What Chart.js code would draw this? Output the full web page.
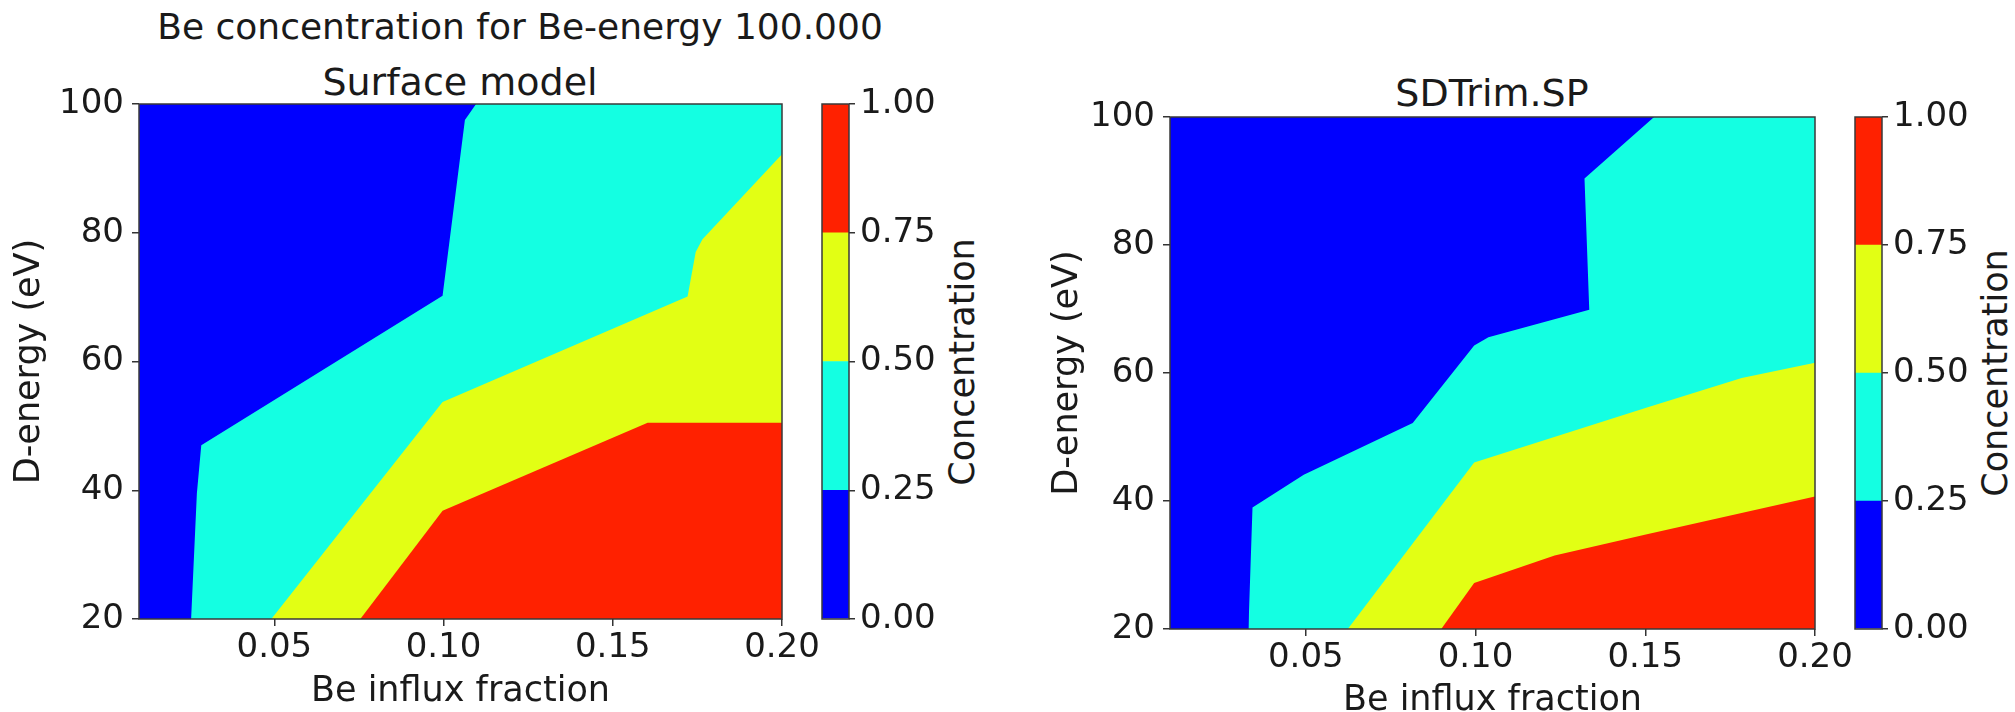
<!DOCTYPE html>
<html>
<head>
<meta charset="utf-8">
<script src="https://cdn.jsdelivr.net/npm/chart.js@4.4.1/dist/chart.umd.min.js"></script>
<style>
html,body{margin:0;padding:0;background:#fff;overflow:hidden;width:2015px;height:712px;}
canvas{position:absolute;top:0;}
.t{position:absolute;font-family:"DejaVu Sans";color:#1a1a1a;white-space:nowrap;line-height:1;}
</style>
</head>
<body>
<div class="t" style="left:520px;top:27px;font-size:36px;transform:translate(-50%,-50%);">Be concentration for Be-energy 100.000</div>
<div class="t" style="left:460px;top:82px;font-size:38px;transform:translate(-50%,-50%);">Surface model</div>
<div class="t" style="left:1492px;top:93px;font-size:38px;transform:translate(-50%,-50%);">SDTrim.SP</div>
<div class="t" style="left:962px;top:362px;font-size:35px;transform:translate(-50%,-50%) rotate(-90deg);">Concentration</div>
<div class="t" style="left:1995px;top:373px;font-size:35px;transform:translate(-50%,-50%) rotate(-90deg);">Concentration</div>

<canvas id="surf" style="left:0px;width:1000px;height:740px" width="1000" height="740"></canvas>
<canvas id="surfBar" style="left:800px;width:215px;height:740px" width="215" height="740"></canvas>
<canvas id="sd" style="left:1000px;width:1015px;height:740px" width="1015" height="740"></canvas>
<canvas id="sdBar" style="left:1830px;width:185px;height:740px" width="185" height="740"></canvas>

<script>
// ---------- data ----------
const xRange = [0.01, 0.20];
const yRange = [20, 100];
const xTickValues = [0.05, 0.10, 0.15, 0.20];
const yTickValues = [20, 40, 60, 80, 100];
const levels = [0.00, 0.25, 0.50, 0.75, 1.00];

// Surface model: upper boundary of the area where concentration >= level
// points are [Be influx fraction, D-energy (eV)]
const surfAbove000 = [[0.01, 100], [0.20, 100]];
const surfAbove025 = [[0.0254, 20], [0.0271, 39.5], [0.0284, 47.0], [0.0997, 70.2], [0.1063, 97.5], [0.1096, 100], [0.20, 100]];
const surfAbove050 = [[0.0491, 20], [0.0997, 53.7], [0.1721, 70.1], [0.1745, 77.0], [0.1765, 79.0], [0.20, 92.2]];
const surfAbove075 = [[0.0754, 20], [0.0997, 36.8], [0.1603, 50.5], [0.20, 50.5]];

// SDTrim.SP
const sdAbove000 = [[0.01, 100], [0.20, 100]];
const sdAbove025 = [[0.0331, 20], [0.0343, 39.0], [0.0494, 44.1], [0.0815, 52.2], [0.0996, 64.3], [0.1038, 65.6], [0.1335, 69.9], [0.1321, 90.4], [0.1526, 100], [0.20, 100]];
const sdAbove050 = [[0.0624, 20], [0.0996, 46.0], [0.1505, 54.6], [0.1784, 59.2], [0.20, 61.6]];
const sdAbove075 = [[0.0899, 20], [0.0996, 27.2], [0.1233, 31.5], [0.1505, 34.8], [0.20, 40.7]];

// ---------- styles ----------
const jetColors = ['#0000ff', '#14ffe2', '#e2ff14', '#ff2100'];
const textColor = '#1a1a1a';
const tickColor = '#333333';
Chart.defaults.font.family = '"DejaVu Sans"';
Chart.defaults.color = textColor;

const framePlugin = {
  id: 'frame',
  afterDatasetsDraw(chart) {
    const {ctx, chartArea: a} = chart;
    ctx.save();
    ctx.strokeStyle = '#3a3a3a';
    ctx.lineWidth = 1.5;
    ctx.strokeRect(a.left, a.top, a.right - a.left, a.bottom - a.top);
    ctx.restore();
  }
};

function toPts(arr) { return arr.map(p => ({x: p[0], y: p[1]})); }

function contourChart(id, geom, bounds) {
  const datasets = bounds.map((b, i) => ({
    data: toPts(b),
    backgroundColor: jetColors[i],
    borderColor: 'transparent',
    borderWidth: 0,
    pointRadius: 0,
    pointHoverRadius: 0,
    fill: 'start',
    tension: 0,
    order: bounds.length - 1 - i
  }));
  const yAxisW = geom.areaLeft - geom.canvasLeft;
  const xAxisH = geom.canvasH - geom.areaBottom;
  return new Chart(document.getElementById(id), {
    type: 'line',
    data: {datasets},
    plugins: [framePlugin],
    options: {
      responsive: false,
      animation: false,
      events: [],
      layout: {padding: {left: 0, top: geom.areaTop, right: geom.canvasLeft + geom.canvasW - geom.areaRight, bottom: 0}},
      plugins: {legend: {display: false}, tooltip: {enabled: false}, title: {display: false}},
      scales: {
        x: {
          type: 'linear', min: xRange[0], max: xRange[1],
          afterBuildTicks: s => { s.ticks = xTickValues.map(v => ({value: v})); },
          afterFit: s => { s.height = xAxisH; s.paddingLeft = 0; s.paddingRight = 0; },
          ticks: {font: {size: 34}, color: textColor, padding: 2, maxRotation: 0, autoSkip: false,
                  callback: v => Number(v).toFixed(2)},
          grid: {display: true, drawOnChartArea: false, drawTicks: true, tickLength: 7, color: tickColor, lineWidth: 1.5},
          border: {display: false},
          title: {display: true, text: 'Be influx fraction', font: {size: 35, lineHeight: 1}, color: textColor,
                  padding: {top: 0, bottom: geom.xTitlePad}}
        },
        y: {
          type: 'linear', min: yRange[0], max: yRange[1],
          afterBuildTicks: s => { s.ticks = yTickValues.map(v => ({value: v})); },
          afterFit: s => { s.width = yAxisW; s.paddingTop = 0; s.paddingBottom = 0; },
          ticks: {font: {size: 34}, color: textColor, padding: 8, autoSkip: false, callback: v => String(v)},
          grid: {display: true, drawOnChartArea: false, drawTicks: true, tickLength: 7, color: tickColor, lineWidth: 1.5},
          border: {display: false},
          title: {display: true, text: 'D-energy (eV)', font: {size: 35, lineHeight: 1}, color: textColor,
                  padding: {top: geom.yTitlePad, bottom: 0}}
        }
      }
    }
  });
}

function colorbarChart(id, geom) {
  const datasets = jetColors.map((c, i) => ({
    data: [[levels[i], levels[i + 1]]],
    backgroundColor: c,
    borderWidth: 0,
    grouped: false,
    barPercentage: 1,
    categoryPercentage: 1
  }));
  const yAxisW = geom.canvasW - (geom.areaLeft - geom.canvasLeft) - (geom.areaRight - geom.areaLeft);
  return new Chart(document.getElementById(id), {
    type: 'bar',
    data: {labels: [''], datasets},
    plugins: [framePlugin],
    options: {
      responsive: false,
      animation: false,
      events: [],
      layout: {padding: {left: geom.areaLeft - geom.canvasLeft, top: geom.areaTop, right: 0, bottom: geom.canvasH - geom.areaBottom}},
      plugins: {legend: {display: false}, tooltip: {enabled: false}},
      scales: {
        x: {display: false},
        y: {
          position: 'right', min: levels[0], max: levels[levels.length - 1],
          afterBuildTicks: s => { s.ticks = levels.map(v => ({value: v})); },
          afterFit: s => { s.width = yAxisW; s.paddingTop = 0; s.paddingBottom = 0; },
          ticks: {font: {size: 34}, color: textColor, padding: 5, autoSkip: false, callback: v => Number(v).toFixed(2)},
          grid: {display: true, drawOnChartArea: false, drawTicks: true, tickLength: 6, color: tickColor, lineWidth: 1.5},
          border: {display: false}
        }
      }
    }
  });
}

contourChart('surf', {canvasLeft: 0, canvasW: 1000, canvasH: 740, areaLeft: 139, areaRight: 782, areaTop: 104, areaBottom: 619, xTitlePad: 31, yTitlePad: 12},
  [surfAbove000, surfAbove025, surfAbove050, surfAbove075]);
colorbarChart('surfBar', {canvasLeft: 800, canvasW: 215, canvasH: 740, areaLeft: 822, areaRight: 849, areaTop: 104, areaBottom: 619});

contourChart('sd', {canvasLeft: 1000, canvasW: 1015, canvasH: 740, areaLeft: 1170, areaRight: 1815, areaTop: 117, areaBottom: 629, xTitlePad: 22, yTitlePad: 50},
  [sdAbove000, sdAbove025, sdAbove050, sdAbove075]);
colorbarChart('sdBar', {canvasLeft: 1830, canvasW: 185, canvasH: 740, areaLeft: 1855, areaRight: 1882, areaTop: 117, areaBottom: 629});
</script>
</body>
</html>
